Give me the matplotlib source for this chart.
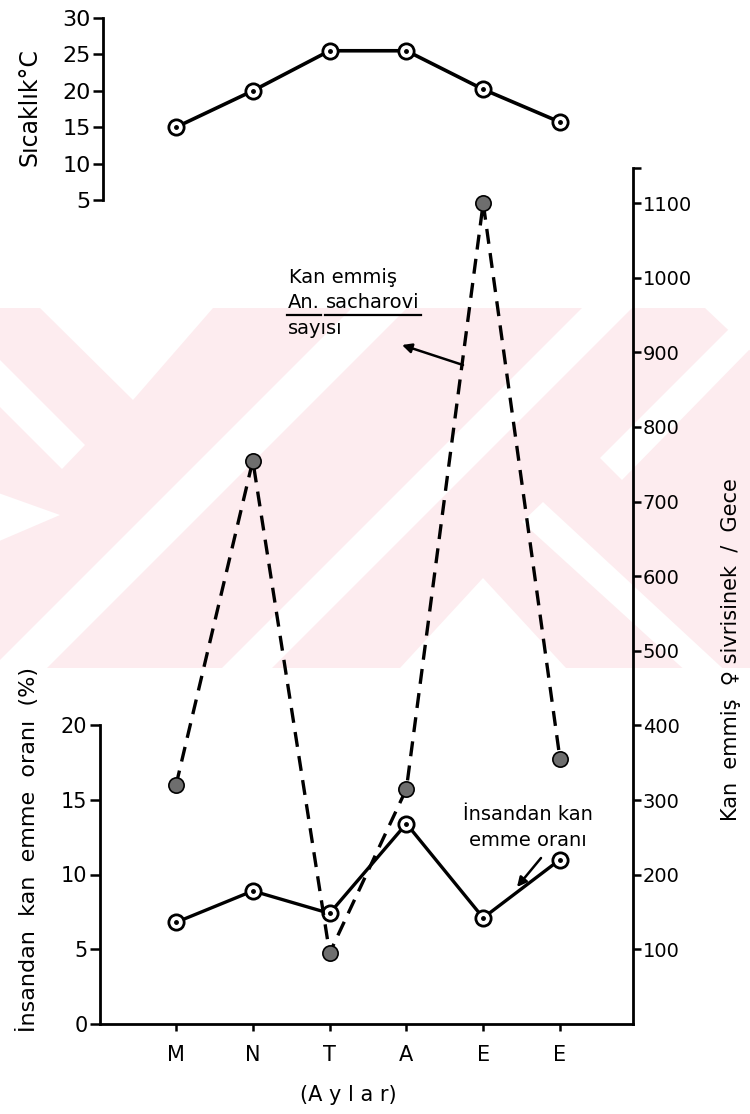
import matplotlib
matplotlib.use('Agg')
import matplotlib.pyplot as plt
from matplotlib.patches import Polygon, Rectangle
from matplotlib.lines import Line2D

# aylar ve olcumler
months = ['M', 'N', 'T', 'A', 'E', 'E']
sicaklik = [15, 20, 25.5, 25.5, 20.2, 15.7]
kan_emmis_sayi = [320, 755, 95, 315, 1100, 355]
kan_emme_orani = [6.8, 8.9, 7.4, 13.4, 7.1, 11.0]

temp_ticks = [5, 10, 15, 20, 25, 30]
oran_ticks = [0, 5, 10, 15, 20]
sayi_ticks = [100, 200, 300, 400, 500, 600, 700, 800, 900, 1000, 1100]

W, H = 750, 1114
plt.rcParams['font.family'] = ['DejaVu Sans']

fig = plt.figure(figsize=(W / 100, H / 100), dpi=100)


def box(x0, y0, x1, y1):
    # pixel box (origin top-left) -> figure rect
    return [x0 / W, 1 - y1 / H, (x1 - x0) / W, (y1 - y0) / H]


def fxy(x, y):
    return (x / W, 1 - y / H)


# background band
pink = '#fdecef'
band = Rectangle(fxy(0, 668), 1, (668 - 308) / H, transform=fig.transFigure,
                 facecolor=pink, edgecolor='none', zorder=-5)
fig.add_artist(band)


def white_poly(pts):
    p = Polygon([fxy(x, y) for x, y in pts], closed=True, transform=fig.transFigure,
                facecolor='white', edgecolor='none', zorder=-4)
    p.set_clip_path(band)
    fig.add_artist(p)


def up_stripe(c1, c2):
    white_poly([(c1 - 250, 250), (c2 - 250, 250), (c2 - 720, 720), (c1 - 720, 720)])


white_poly([(40, 308), (213, 308), (133, 400)])
white_poly([(-50, 310), (85, 445), (62, 469), (-50, 357)])
white_poly([(-10, 490), (60, 515), (-10, 545)])
up_stripe(660, 715)
up_stripe(890, 940)
white_poly([(600, 458), (750, 308), (790, 308), (622, 480)])
white_poly([(543, 502), (800, 740), (800, 775), (522, 522)])
white_poly([(483, 578), (400, 668), (566, 668)])
white_poly([(705, 308), (760, 308), (760, 360)])

xs = list(range(len(months)))
xlim = ((100 - 176) / 76.8, (633 - 176) / 76.8)

# lower panel
ax = fig.add_axes(box(100, 168, 633, 1024))
ax.patch.set_alpha(0)
ax.set_xlim(*xlim)
ax.set_ylim(0, (1024 - 168) / 14.95)
for s in ['top', 'right']:
    ax.spines[s].set_visible(False)
ax.spines['left'].set_bounds(0, 20)
for s in ['left', 'bottom']:
    ax.spines[s].set_linewidth(2)
ax.set_yticks(oran_ticks)
ax.set_xticks(xs)
ax.set_xticklabels(months)
ax.tick_params(axis='y', direction='out', length=7, width=1.8, labelsize=15, pad=2)
ax.tick_params(axis='x', direction='out', length=5, width=1.8, labelsize=15, pad=10)

ax2 = ax.twinx()
ax2.patch.set_alpha(0)
ax2.set_ylim(0, 1147)
for s in ['top', 'left', 'bottom']:
    ax2.spines[s].set_visible(False)
ax2.spines['right'].set_linewidth(2)
ax2.set_yticks(sayi_ticks + [1147])
ax2.set_yticklabels([str(v) for v in sayi_ticks] + [''])
ax2.tick_params(axis='y', direction='out', length=6, width=1.8, labelsize=14, pad=1)

ax.plot(xs, kan_emme_orani, color='black', lw=2.4, marker='o', ms=11,
        mfc='white', mec='black', mew=2, zorder=3)
ax.plot(xs, kan_emme_orani, ls='none', marker='o', ms=2.5, color='black', zorder=4)

ax2.plot(xs, kan_emmis_sayi, color='black', lw=2.4, dashes=(4.5, 2.8),
         marker='o', ms=11, mfc='#6e6e6e', mec='black', mew=1.2, zorder=3)

# upper panel: temperature
axt = fig.add_axes(box(100, 18, 633, 200))
axt.patch.set_alpha(0)
axt.set_xlim(*xlim)
axt.set_ylim(5, 30)
for s in ['top', 'right', 'bottom']:
    axt.spines[s].set_visible(False)
axt.spines['left'].set_linewidth(2)
axt.spines['left'].set_position(('axes', 3 / 533))
axt.set_xticks([])
axt.set_yticks(temp_ticks)
axt.tick_params(axis='y', direction='out', length=7, width=1.8, labelsize=16, pad=2)
axt.plot(xs, sicaklik, color='black', lw=2.6, marker='o', ms=11,
         mfc='white', mec='black', mew=2, zorder=3)
axt.plot(xs, sicaklik, ls='none', marker='o', ms=2.5, color='black', zorder=4)

# axis titles
fig.text(*fxy(30, 107), 'Sıcaklık°C', rotation=90, ha='center', va='center', fontsize=17)
fig.text(*fxy(28, 850), 'İnsandan  kan  emme  oranı  (%)', rotation=90,
         ha='center', va='center', fontsize=16)
fig.text(*fxy(731, 650), 'Kan  emmiş  ♀ sivrisinek  /  Gece', rotation=90,
         ha='center', va='center', fontsize=15)
fig.text(*fxy(348, 1095), '(A y l a r)', ha='center', va='center', fontsize=15)

# series notes
fig.text(*fxy(289, 283), 'Kan emmiş', ha='left', va='baseline', fontsize=14)
t_an = fig.text(*fxy(288, 308), 'An.', ha='left', va='baseline', fontsize=14)
t_sac = fig.text(*fxy(326, 308), 'sacharovi', ha='left', va='baseline', fontsize=14)
fig.text(*fxy(288, 334), 'sayısı', ha='left', va='baseline', fontsize=14)

renderer = fig.canvas.get_renderer()
for t in (t_an, t_sac):
    bb = t.get_window_extent(renderer)
    yline = (bb.y0 - 3) / (H)
    fig.add_artist(Line2D([(bb.x0 - 1) / W, (bb.x1 + 1) / W], [yline, yline],
                          color='black', lw=1.6, transform=fig.transFigure))

fig.text(*fxy(463, 820), 'İnsandan kan', ha='left', va='baseline', fontsize=14)
fig.text(*fxy(469, 846), 'emme oranı', ha='left', va='baseline', fontsize=14)

arrow = dict(arrowstyle='-|>', color='black', lw=1.8, mutation_scale=14,
             shrinkA=0, shrinkB=0)
ax.annotate('', xy=(402, H - 345), xytext=(463, H - 365),
            xycoords='figure pixels', textcoords='figure pixels', arrowprops=arrow)
ax.annotate('', xy=(517, H - 887), xytext=(541, H - 858),
            xycoords='figure pixels', textcoords='figure pixels', arrowprops=arrow)

fig.savefig('out.png', dpi=100)
